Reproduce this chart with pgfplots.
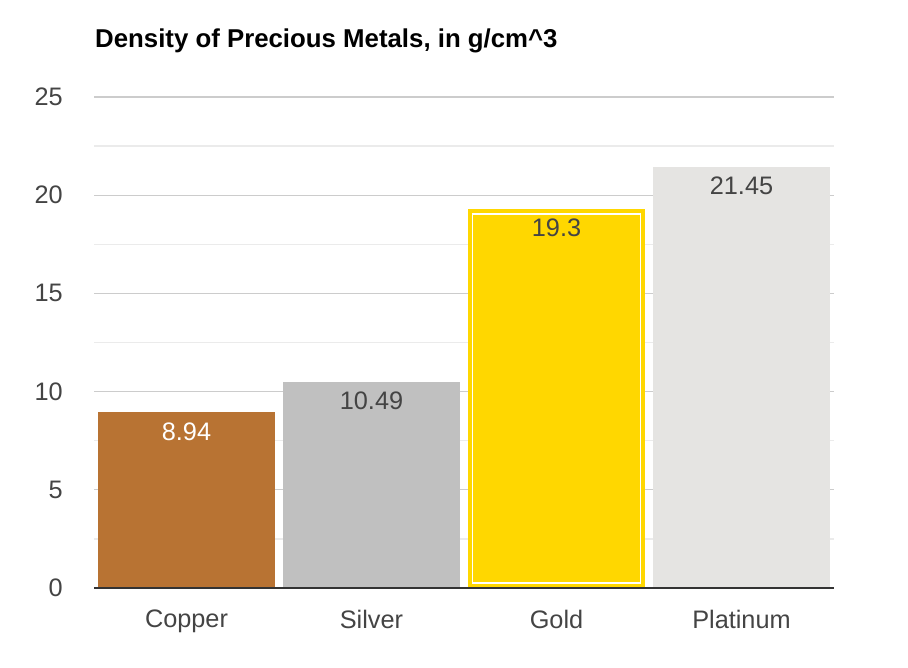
\documentclass[border=0pt]{standalone}
\usepackage{pgfplots}
\pgfplotsset{compat=1.18}
\usepackage{fontspec}
\setmainfont{Liberation Sans}
\definecolor{copper}{HTML}{B87333}
\definecolor{silverc}{HTML}{C0C0C0}
\definecolor{goldc}{HTML}{FFD700}
\definecolor{platc}{HTML}{E5E4E2}
\definecolor{txt}{HTML}{444444}
\definecolor{majgrid}{HTML}{CCCCCC}
\definecolor{mingrid}{HTML}{EBEBEB}
\definecolor{baseln}{HTML}{333333}
\begin{document}
\fontsize{25pt}{30pt}\selectfont
\begin{tikzpicture}
\path[use as bounding box] (0,0) rectangle (908pt,668pt);
\begin{axis}[
  at={(94pt,80pt)}, anchor=south west,
  scale only axis, width=740pt, height=491pt,
  xmin=-0.5, xmax=3.5, ymin=0, ymax=25,
  xtick={0,1,2,3},
  xticklabels={Copper,Silver,Gold,Platinum},
  ytick={0,5,10,15,20,25},
  minor ytick={2.5,7.5,12.5,17.5,22.5},
  ymajorgrids, yminorgrids,
  major grid style={majgrid, line width=1.3pt},
  minor grid style={mingrid, line width=1.3pt},
  major tick length=0pt, minor tick length=0pt,
  axis line style={draw=none},
  every axis title shift=0pt,
  /pgf/number format/assume math mode=true,
  tick label style={font=\fontsize{25.3pt}{30pt}\selectfont, text=txt},
  yticklabel style={anchor=east, inner sep=0pt, xshift=-31pt},
  xticklabel style={anchor=north, inner sep=0pt, yshift=-22pt},
  title={\textbf{Density of Precious Metals, in g/cm\^{}3}},
  title style={at={(0,1)}, anchor=base west, inner sep=0pt, xshift=1pt, yshift=49pt,
    font=\fontsize{25.8pt}{30pt}\selectfont, text=black},
  clip=false,
]
\addplot[ybar, bar width=0.962, bar shift=0pt, fill=copper, draw=none,
  nodes near coords, nodes near coords style={anchor=north, inner sep=0pt, yshift=-10pt, text=white, font=\fontsize{25.3pt}{30pt}\selectfont}]
  coordinates {(0,8.94)};
\addplot[ybar, bar width=0.962, bar shift=0pt, fill=silverc, draw=none,
  nodes near coords, nodes near coords style={anchor=north, inner sep=0pt, yshift=-10pt, text=txt, font=\fontsize{25.3pt}{30pt}\selectfont}]
  coordinates {(1,10.49)};
\addplot[ybar, bar width=0.962, bar shift=0pt, fill=goldc, draw=none,
  nodes near coords, nodes near coords style={anchor=north, inner sep=0pt, yshift=-10pt, text=txt, font=\fontsize{25.3pt}{30pt}\selectfont}]
  coordinates {(2,19.3)};
\addplot[ybar, bar width=0.962, bar shift=0pt, fill=platc, draw=none,
  nodes near coords, nodes near coords style={anchor=north, inner sep=0pt, yshift=-10pt, text=txt, font=\fontsize{25.3pt}{30pt}\selectfont}]
  coordinates {(3,21.45)};
% highlight outline inside the gold bar
\addplot[white, line width=1.6pt, mark=none]
  coordinates {(1.545,0.25) (2.455,0.25) (2.455,19.04) (1.545,19.04) (1.545,0.25)};
% baseline
\addplot[baseln, line width=2pt, mark=none] coordinates {(-0.5,0) (3.5,0)};
\end{axis}
\end{tikzpicture}
\end{document}
